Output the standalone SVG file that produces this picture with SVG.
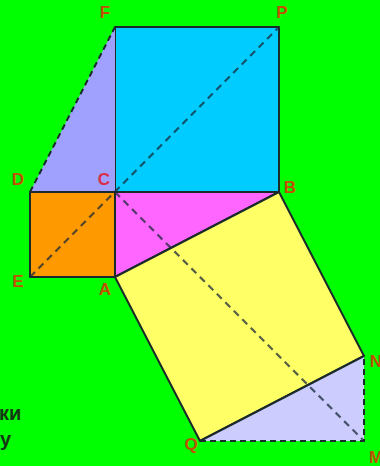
<svg xmlns="http://www.w3.org/2000/svg" width="380" height="466" viewBox="0 0 380 466">
<style>
.sh{stroke:#1a2a2a;stroke-width:2;stroke-linejoin:round}
.dash{fill:none;stroke:#1a2a3a;stroke-width:2.2;stroke-dasharray:7 5;stroke-opacity:0.75}
.edge{fill:none;stroke:#1a2a2a;stroke-width:2;stroke-dasharray:6 4}
.lb{font-family:"Liberation Sans",Arial,sans-serif;font-weight:bold;font-size:17px;fill:#c05000;text-anchor:middle}
.txt{font-family:"Liberation Sans",Arial,sans-serif;font-weight:bold;font-size:20px;fill:#143814}
</style>
<rect width="380" height="466" fill="#00ff00"/>
<g id="sqCP"><polygon class="sh" points="115,27 279,27 279,192 115,192" fill="#00ccff"/></g>
<g id="triDFC"><polygon points="30,192 115,27 115,192" fill="#a0a0ff"/><line class="edge" x1="30" y1="192" x2="115" y2="27"/></g>
<g id="sqCA"><polygon class="sh" points="30,192 115,192 115,277 30,277" fill="#ff9900"/></g>
<g id="triABC"><polygon class="sh" points="115,192 279,192 115,277" fill="#ff66ff"/></g>
<g id="sqAB"><polygon class="sh" points="115,277 279,192 364,356 200,441" fill="#ffff66"/></g>
<g id="triQMN"><polygon points="200,441 364,356 364,441" fill="#ccccff"/><polyline class="edge" points="200,441 364,441 364,356"/><line class="sh" x1="200" y1="441" x2="364" y2="356"/></g>
<g id="connectors">
<line class="dash" x1="30" y1="277" x2="279" y2="27"/>
<line class="dash" x1="115" y1="192" x2="364" y2="441"/>
</g>
<g id="labels">
<text class="lb" x="105" y="18">F</text>
<text class="lb" x="282" y="18">P</text>
<text class="lb" x="18" y="185">D</text>
<text class="lb" x="104" y="185" style="fill:#d8304a">C</text>
<text class="lb" x="290" y="193">B</text>
<text class="lb" x="18" y="287">E</text>
<text class="lb" x="105" y="295">A</text>
<text class="lb" x="191" y="450">Q</text>
<text class="lb" x="376" y="367">N</text>
<text class="lb" x="376" y="463">M</text>
</g>
<text class="txt" x="-1" y="420">ки</text>
<text class="txt" x="0" y="446">у</text>
</svg>
